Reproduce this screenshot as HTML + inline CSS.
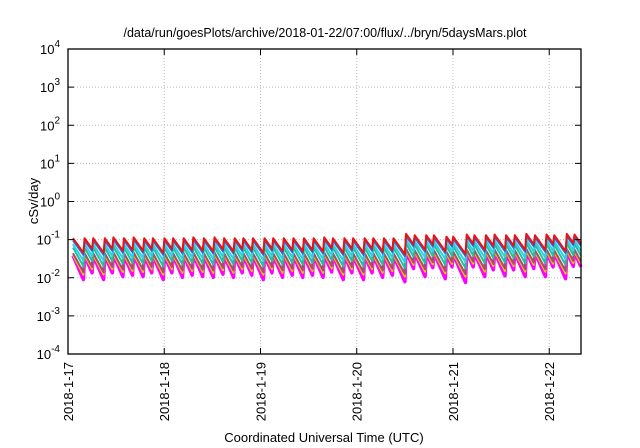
<!DOCTYPE html>
<html><head><meta charset="utf-8"><style>
body{margin:0;background:#fff}
svg{display:block;font-family:"Liberation Sans",sans-serif}
</style></head><body>
<svg id="chart" width="640" height="448">
<text x="325" y="37" font-size="12.5" text-anchor="middle">/data/run/goesPlots/archive/2018-01-22/07:00/flux/../bryn/5daysMars.plot</text>
<text transform="translate(38,201) rotate(-90)" font-size="13" text-anchor="middle">cSv/day</text>
<text x="324" y="442" font-size="13" text-anchor="middle">Coordinated Universal Time (UTC)</text>
<g id="grid"></g><g id="series"></g><g id="axes"></g>
</svg>
<script>
const tickDays=[0,1,2,3,4,5];
const tickLabels=["2018-1-17","2018-1-18","2018-1-19","2018-1-20","2018-1-21","2018-1-22"];
const yExps=[-4,-3,-2,-1,0,1,2,3,4];
const peakDays=[0.04,0.16,0.25,0.37,0.46,0.57,0.67,0.78,0.87,0.99,1.08,1.19,1.29,1.40,1.51,1.61,1.72,1.81,1.91,2.03,2.12,2.23,2.33,2.44,2.54,2.65,2.74,2.86,2.95,3.07,3.16,3.27,3.37,3.50,3.59,3.71,3.79,3.92,3.99,4.13,4.21,4.33,4.42,4.54,4.63,4.75,4.84,4.96,5.04,5.17,5.25];
const peakFactor=[1,1,1,1,1.05,1,1.05,1,1,1,1,1,1.05,1,1.05,1,1,1,1,1,1,1,1,1,1,1.05,1,1,1,1,1,1,1,1.3,1.2,1.2,1.2,1.1,1.1,1.25,1.2,1.2,1.25,1.2,1.2,1.3,1.2,1.25,1.2,1.3,1.25];
const seriesNames=["magenta","yellow","brown","teal","cyan","blue","red"];
const seriesColors=["#ff00ff","#e6c800","#a0506e","#20c0a0","#30d0e0","#1e6ee6","#ee1111"];
const seriesPeak=[0.045,0.045,0.05,0.07,0.085,0.105,0.12];
const seriesTrough=[0.009,0.012,0.014,0.02,0.028,0.04,0.045];
const endDay=5.33;
const X0=68,X1=581,Y0=49,Y1=354;
const xs=d=>X0+(X1-X0)*d/endDay;
const ys=v=>Y1-(Math.log10(v)+4)*(Y1-Y0)/8;
const NS="http://www.w3.org/2000/svg";
function mk(tag,attrs,parent){const e=document.createElementNS(NS,tag);for(const k in attrs)e.setAttribute(k,attrs[k]);parent.appendChild(e);return e;}
const grid=document.getElementById('grid'),axes=document.getElementById('axes'),ser=document.getElementById('series');
yExps.forEach(p=>{const y=ys(Math.pow(10,p));
 if(p>-4&&p<4){const g=mk('line',{x1:X0,x2:X1,y1:y,y2:y,stroke:'#bbb','stroke-dasharray':'1,2'},grid);
 
 }
 mk('line',{x1:X0,x2:X0+6,y1:y,y2:y,stroke:'#000'},axes);
 mk('line',{x1:X1-6,x2:X1,y1:y,y2:y,stroke:'#000'},axes);
 const t=mk('text',{x:X0-8,y:y+5,'font-size':13,'text-anchor':'end'},axes);
 
 
 t.textContent='10';const s=mk('tspan',{dy:-7,'font-size':10},t);s.textContent=String(p);
});
tickDays.forEach((d,i)=>{const x=xs(d);
 if(d>0){const g=mk('line',{x1:x,x2:x,y1:Y0,y2:Y1,stroke:'#bbb','stroke-dasharray':'1,2'},grid);
 
 }
 mk('line',{x1:x,x2:x,y1:Y1,y2:Y1-6,stroke:'#000'},axes);
 mk('line',{x1:x,x2:x,y1:Y0,y2:Y0+6,stroke:'#000'},axes);
 const t=mk('text',{transform:`translate(${x+5},${Y1+8}) rotate(-90)`,'font-size':13,'text-anchor':'end'},axes);
 
 
 t.textContent=tickLabels[i];
});
const fr=mk('rect',{x:X0,y:Y0,width:X1-X0,height:Y1-Y0,fill:'none',stroke:'#000','stroke-width':1.3},axes);


seriesNames.forEach((nm,si)=>{
 const pk=seriesPeak[si],tr=seriesTrough[si];let pts=[];
 peakDays.forEach((t0,i)=>{const t1=i+1<peakDays.length?peakDays[i+1]:endDay;const P=pk*peakFactor[i];
  const rise=0.012;
  for(let k=0;k<=10;k++){const t=t0+rise+(t1-t0-rise)*k/10;const v=P*Math.pow(tr/pk,(t-t0)/0.12);pts.push(xs(t).toFixed(1)+','+ys(v).toFixed(1));}
 });
 const pl=mk('polyline',{points:pts.join(' '),fill:'none',stroke:seriesColors[si],'stroke-width':si==0?3.5:2,'stroke-linejoin':'round'},ser);
 
 
});
</script>
</body></html>
